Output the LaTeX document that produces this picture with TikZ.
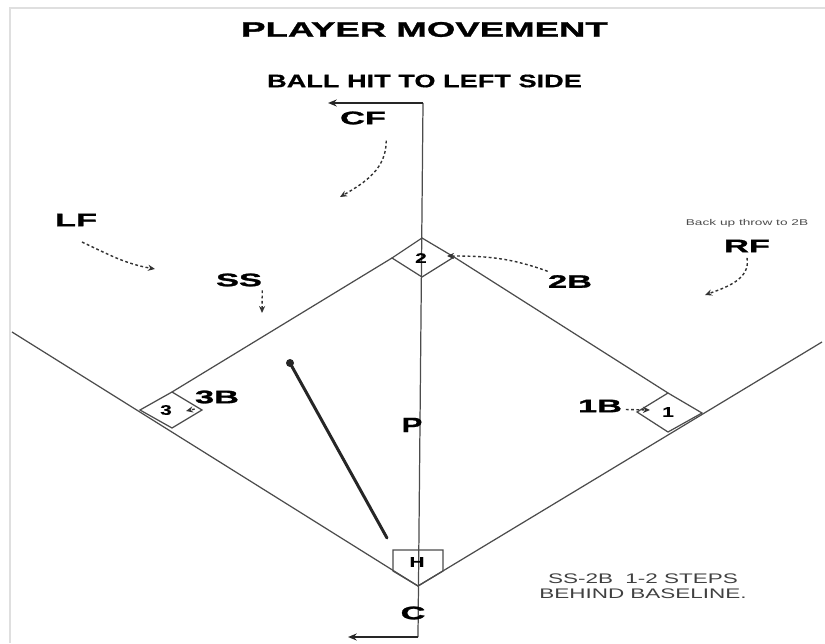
\documentclass[tikz,border=0pt]{standalone}
\usepackage{fontspec}
\setmainfont{Liberation Sans}
\newfontfamily\titlefont{Liberation Sans}[FakeStretch=1.75,FakeBold=1.5]
\newfontfamily\labelfont{Liberation Sans}[FakeStretch=1.9,FakeBold=1.5]
\newfontfamily\headfont{Liberation Sans}[FakeStretch=1.5,FakeBold=0.5]
\newfontfamily\notefont{Liberation Sans}[FakeStretch=1.62]
\usetikzlibrary{arrows.meta, positioning}

\begin{document}
\begin{tikzpicture}[x=0.02cm, y=0.02cm,
          titlestyle/.style={font=\titlefont\bfseries\fontsize{11.9}{14}\selectfont, inner sep=0pt},
          headstyle/.style={font=\headfont\bfseries\fontsize{10.3}{12}\selectfont, inner sep=0pt},
          posn/.style={font=\labelfont\bfseries\fontsize{10.3}{12}\selectfont, inner sep=0pt},
          digit/.style={font=\headfont\bfseries\fontsize{7.9}{9}\selectfont, inner sep=0pt},
          notebox/.style={font=\notefont\fontsize{7.9}{8.8}\selectfont, text=black!75, align=center, inner sep=0pt},
          tinynote/.style={font=\notefont\fontsize{4.8}{6}\selectfont, text=black!70, inner sep=0pt},
          fieldline/.style={black!70, line width=0.7pt},
          movearrow/.style={-{Stealth[length=4pt, width=3.5pt]}, line width=0.8pt, dash pattern=on 1.6pt off 1.4pt, black!80}]

        \useasboundingbox (0,0) rectangle (825,643);
        \draw [gray!25, line width=1.2pt] (10,0) -- (10,635) -- (825,635);

        % field
        \coordinate (home) at (418,57);
        \coordinate (lfoul) at (12,311);
        \coordinate (rfoul) at (822,301);
        \draw [fieldline] (lfoul) -- (home) -- (rfoul);
        \draw [fieldline] (393,72) -- (393,93) -- (443,93) -- (443,72) -- (home) -- cycle;
        \draw [fieldline] (140,233) -- (172,251) -- (202,233) -- (172,215) -- cycle;
        \draw [fieldline] (392,385) -- (422,405) -- (454,386) -- (422,366) -- cycle;
        \draw [fieldline] (637,231) -- (668,250) -- (702,230) -- (668,211) -- cycle;
        \draw [fieldline] (172,251) -- (392,385);
        \draw [fieldline] (454,386) -- (668,250);

        % ball line
        \coordinate (ctop) at (423,540);
        \coordinate (ctopend) at (328,540);
        \coordinate (cbot) at (418,6);
        \coordinate (cbotend) at (348,6);
        \draw [fieldline] (ctop) -- (cbot);
        \draw [black!85, line width=1pt, -{Stealth[length=5pt, width=4pt]}] (ctop) -- (ctopend);
        \draw [black!85, line width=1pt, -{Stealth[length=5pt, width=4pt]}] (cbot) -- (cbotend);

        % bat
        \draw [black!85, line width=1.7pt, line cap=round] (290,280) -- (387,105);
        \fill [black!85] (290,280) circle (4);

        \node [titlestyle] (title) at (424.5,613.5) {PLAYER MOVEMENT};
        \node [headstyle, below=0.74cm of title] (subtitle) {BALL HIT TO LEFT SIDE};

        \node [posn] (cf) at (363,525) {CF};
        \node [posn] (lf) at (76,423) {LF};
        \node [posn] (ss) at (239,363) {SS};
        \node [posn] (second) at (570,361.5) {2B};
        \node [posn] (rf) at (747,397) {RF};
        \node [tinynote] (rfnote) at (747,420) {Back up throw to 2B};
        \node [posn] (third) at (217,246) {3B};
        \node [posn] (first) at (600,237) {1B};
        \node [posn, font=\headfont\bfseries\fontsize{11.9}{14}\selectfont] (pitcher) at (412,218) {P};
        \node [posn] (catcher) at (413,30) {C};
        \node [digit] (plate) at (417,81) {H};
        \node [digit] (bag2) at (421,385) {2};
        \node [digit] (bag3) at (166,233) {3};
        \node [digit] (bag1) at (668,231) {1};
        \node [notebox] (steps) at (643,57) {SS-2B\ \ 1-2 STEPS\\BEHIND BASELINE.};

        \coordinate (cfend) at (340,446);
        \coordinate (lfend) at (155,374);
        \coordinate (ssend) at (262,330);
        \coordinate (secondend) at (447,387);
        \coordinate (rfend) at (705,348);
        \coordinate (thirdend) at (186,232);
        \coordinate (firstend) at (650,233);

        \draw [movearrow] ([yshift=-9pt]cf.south east) to[out=-90, in=30] (cfend);
        \draw [movearrow] ([xshift=3.4pt, yshift=-8.8pt]lf.south) to[out=-25, in=170] (lfend);
        \draw [movearrow] ([yshift=-2pt]ss.south east) -- (ssend);
        \draw [movearrow] ([yshift=2pt]second.north west) to[out=160, in=0] (secondend);
        \draw [movearrow] ([yshift=-3pt]rf.south) to[out=-80, in=20] (rfend);
        \draw [movearrow] ([yshift=-3pt]third.south west) -- (thirdend);
        \draw [movearrow] ([xshift=2pt, yshift=-2pt]first.east) -- (firstend);
      \end{tikzpicture}
\end{document}
